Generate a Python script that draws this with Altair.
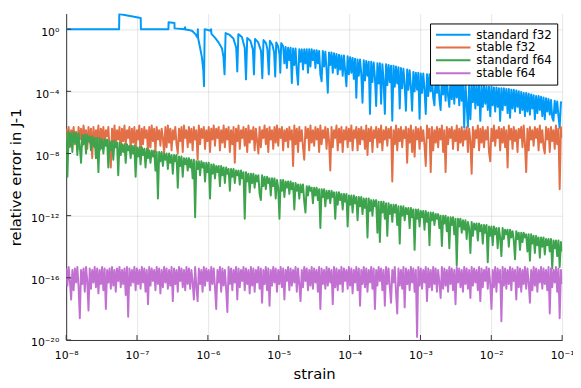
import altair as alt
import numpy as np
import pandas as pd

NAMES = ["standard f32", "stable f32", "standard f64", "stable f64"]
COLORS = ["#009AF9", "#E26F46", "#3DA44D", "#C271D2"]

XTICKS = [1e-8, 1e-7, 1e-6, 1e-5, 1e-4, 1e-3, 1e-2, 1e-1]
YTICKS = [1e0, 1e-4, 1e-8, 1e-12, 1e-16, 1e-20]

# sampling grid of log10(strain)
X_EXP = np.round(np.linspace(-8, -1, 401), 5)
BLUE_GRID_START = 175

# standard f32: explicit early part (log10 strain, log10 error)
BLUE_EARLY_X = [-8.0, -7.253, -7.25, -6.948, -6.945, -6.557, -6.555, -6.472, -6.47, -6.33,
                -6.322, -6.315, -6.27, -6.22, -6.17, -6.155, -6.145, -6.142, -6.139, -6.11,
                -6.085, -6.065, -6.055, -6.045, -6.0, -5.96, -5.955, -5.95, -5.9, -5.85,
                -5.8, -5.78, -5.765, -5.75, -5.7, -5.64, -5.6, -5.585, -5.57, -5.52,
                -5.48, -5.462, -5.445, -5.4, -5.365, -5.35, -5.335, -5.29, -5.25, -5.232,
                -5.215, -5.18, -5.16, -5.14, -5.125, -5.09, -5.065, -5.05, -5.035, -5.01,
                -4.99, -4.978, -4.965]
BLUE_EARLY_Y = [0.0, 0.0, 0.97, 0.72, 0.0, 0.0, 0.44, 0.40, 0.05, 0.0,
                0.12, -0.02, -0.05, -0.12, -0.35, -0.5, -0.5, 0.0, -0.55, -1.2,
                -1.8, -2.6, -3.67, 0.0, -0.05, -0.1, 0.0, -0.3, -0.55, -0.85,
                -1.25, -1.8, -2.91, -0.25, -0.35, -0.6, -1.2, -2.72, -0.32, -0.5,
                -1.2, -3.23, -0.57, -0.75, -1.3, -2.91, -0.63, -0.85, -1.4, -3.16,
                -0.7, -0.9, -1.3, -2.91, -0.75, -1.0, -1.5, -3.04, -0.85, -1.1,
                -1.6, -2.8, -0.9]
# standard f32 on grid points 175..400
BLUE_NOISE = [
    -1.1, -2.2, -1.15, -2.5, -1.2,
    -2.0, -1.2, -3.46, -1.25, -2.3, -1.25, -2.7, -3.57, -1.3, -2.1, -1.3, -2.6, -1.3, -2.2, -1.3, -2.8, -1.3, -2.4, -1.3, -2.0,
    -1.35, -2.5, -1.35, -2.2, -1.4, -2.9, -3.35, -1.4, -2.4, -1.45, -2.6, -4.09, -1.5, -2.3, -1.5, -2.8, -1.55, -2.5, -1.6, -2.9,
    -1.65, -2.6, -1.7, -3.0, -1.7, -2.7, -3.67, -1.75, -2.9, -1.8, -2.8, -1.85, -3.2, -1.9, -4.41, -1.95, -3.0, -1.95, -2.9, -4.73,
    -2.0, -3.3, -2.05, -3.0, -2.1, -5.45, -2.1, -3.4, -2.15, -3.1, -4.94, -2.2, -3.5, -2.2, -4.8, -2.25, -3.3, -5.45, -2.25, -3.6,
    -2.3, -3.4, -2.35, -5.89, -2.35, -3.7, -2.4, -3.5, -2.45, -5.1, -2.5, -3.8, -2.55, -3.6, -5.25, -2.6, -3.9, -2.65, -3.7, -5.25,
    -2.75, -4.0, -2.8, -3.9, -2.8, -5.76, -2.85, -4.1, -2.85, -3.9, -5.46, -2.9, -4.3, -2.9, -4.0, -2.95, -4.4, -4.9, -3.0, -4.1,
    -3.0, -4.5, -5.2, -3.05, -4.2, -3.1, -4.6, -3.1, -4.3, -5.0, -3.15, -4.5, -3.2, -4.8, -3.25, -4.4, -3.3, -4.9, -3.35, -4.6,
    -3.45, -6.35, -3.5, -4.8, -6.3, -3.5, -5.8, -3.55, -4.7, -3.55, -5.1, -3.6, -4.9, -3.6, -5.9, -3.65, -5.0, -3.65, -4.8, -3.7,
    -5.2, -3.7, -5.6, -3.7, -4.9, -3.75, -5.3, -3.75, -5.0, -3.8, -5.9, -3.8, -5.2, -3.8, -4.9, -3.85, -5.4, -3.85, -5.7, -3.9,
    -5.1, -3.9, -5.3, -3.95, -5.0, -4.0, -5.4, -4.05, -5.2, -4.1, -5.6, -4.1, -5.3, -4.15, -5.5, -4.2, -5.1, -4.25, -5.8, -4.3,
    -5.4, -4.3, -5.2, -4.35, -5.6, -4.4, -5.8, -4.45, -5.3, -4.5, -5.5, -4.55, -5.7, -5.9, -4.6, -5.4, -4.65, -5.6, -6.35, -4.7,
    -4.75,
]

ORANGE = [
    -6.4, -7.2, -6.3, -7.6, -6.5, -6.9, -6.3, -7.4, -6.6, -7.8, -6.3, -7.1, -6.4, -7.5, -6.2, -7.0, -6.5, -7.7, -6.3, -7.3,
    -6.4, -8.3, -6.3, -7.6, -6.5, -7.0, -6.2, -7.8, -6.4, -7.2, -6.3, -7.5, -6.5, -6.9, -6.3, -7.7, -8.9, -6.4, -7.3, -6.2,
    -7.6, -6.5, -7.1, -6.3, -7.9, -6.4, -7.2, -6.2, -7.5, -6.5, -7.0, -6.3, -7.7, -6.4, -7.3, -6.3, -7.8, -6.5, -7.1, -6.2,
    -8.1, -6.4, -7.4, -6.3, -7.0, -6.5, -8.0, -6.3, -7.6, -6.2, -7.2, -6.4, -7.9, -6.3, -7.1, -6.5, -7.5, -6.4, -7.0, -8.0,
    -6.3, -7.6, -6.2, -7.3, -6.4, -7.8, -6.5, -7.1, -6.3, -7.4, -8.0, -6.4, -7.2, -6.3, -7.9, -6.2, -7.0, -6.5, -7.6, -6.3,
    -7.3, -6.4, -7.8, -6.3, -7.1, -6.5, -8.4, -6.2, -7.4, -6.4, -7.0, -6.3, -7.7, -6.5, -7.2, -6.3, -7.9, -6.4, -7.1, -6.2,
    -7.5, -6.4, -7.0, -6.3, -7.8, -6.5, -7.3, -6.2, -7.6, -6.4, -7.1, -6.3, -7.9, -6.5, -7.4, -6.3, -8.6, -6.4, -7.2, -6.2,
    -7.7, -6.5, -7.0, -6.3, -7.5, -6.4, -7.9, -6.2, -7.3, -6.5, -7.1, -6.3, -7.8, -6.4, -7.2, -8.0, -6.3, -7.6, -6.5, -7.0,
    -6.2, -7.4, -6.4, -7.9, -6.3, -7.1, -6.5, -7.7, -6.3, -7.3, -6.2, -7.5, -6.4, -7.0, -6.3, -7.8, -6.5, -7.2, -6.4, -7.6,
    -6.3, -7.1, -6.5, -8.8, -6.2, -7.4, -6.4, -7.9, -6.3, -7.2, -6.5, -7.6, -8.4, -6.3, -7.0, -6.4, -7.8, -6.2, -7.3, -6.5,
    -7.5, -6.3, -7.1, -6.4, -7.9, -6.2, -7.4, -6.5, -7.0, -6.3, -7.7, -6.4, -7.2, -9.1, -6.3, -7.6, -6.5, -7.0, -6.2, -7.8,
    -6.4, -7.3, -6.3, -7.9, -6.5, -7.1, -6.3, -7.6, -6.4, -7.2, -6.2, -7.8, -6.5, -7.0, -6.3, -7.8, -6.4, -7.4, -6.3, -7.1,
    -6.5, -7.7, -6.2, -8.1, -6.4, -7.2, -6.3, -7.9, -6.5, -7.0, -6.3, -7.6, -6.4, -7.3, -6.2, -7.8, -6.5, -7.1, -6.3, -7.5,
    -6.4, -7.0, -6.3, -9.8, -6.5, -7.4, -6.2, -7.8, -6.4, -7.2, -6.3, -7.6, -6.5, -7.0, -6.3, -8.6, -6.4, -7.3, -6.2, -7.9,
    -6.5, -8.2, -6.3, -7.1, -6.4, -7.7, -6.3, -7.2, -6.5, -7.5, -8.8, -6.2, -7.0, -6.4, -9.2, -6.3, -7.8, -6.5, -7.3, -6.3,
    -7.6, -6.4, -7.1, -6.2, -7.9, -6.5, -9.2, -6.3, -7.4, -6.4, -7.0, -6.3, -7.7, -6.5, -7.2, -6.2, -7.8, -6.4, -7.3, -6.3,
    -7.5, -6.5, -7.1, -6.3, -7.9, -6.4, -7.2, -9.3, -6.3, -7.6, -6.5, -7.0, -6.2, -7.8, -6.4, -7.3, -6.3, -7.6, -6.5, -7.1,
    -6.3, -7.9, -8.5, -6.4, -7.2, -6.2, -7.5, -6.5, -7.0, -6.3, -7.8, -6.4, -7.3, -6.3, -7.6, -6.5, -8.9, -6.2, -7.1, -6.4,
    -7.7, -6.3, -7.2, -6.5, -7.9, -6.4, -7.0, -6.3, -7.6, -6.2, -7.4, -9.2, -6.4, -7.8, -6.3, -7.1, -6.5, -7.5, -6.3, -7.0,
    -6.4, -7.8, -6.2, -7.3, -6.5, -7.6, -8.0, -6.3, -7.1, -6.4, -7.9, -6.3, -7.2, -6.5, -7.7, -6.2, -7.4, -6.4, -10.3, -6.3,
    -7.0,
]

GREEN = [
    -6.6, -9.5, -6.6, -7.5, -6.7, -7.9, -6.6, -7.3, -6.7, -8.1, -6.7, -7.6, -8.6, -6.8, -7.4, -6.8, -8.0, -6.8, -7.2, -6.9,
    -7.8, -6.9, -7.5, -7.0, -8.3, -7.0, -9.2, -7.0, -7.7, -7.1, -8.0, -7.1, -7.5, -7.1, -8.9, -7.2, -7.8, -7.2, -8.4, -7.2,
    -7.6, -7.3, -9.4, -7.3, -8.1, -7.4, -7.9, -7.4, -8.6, -7.4, -7.8, -7.5, -8.3, -7.5, -8.0, -7.5, -9.5, -7.6, -8.2, -7.6,
    -8.7, -7.6, -8.1, -7.7, -8.9, -7.7, -8.3, -7.8, -8.6, -7.8, -8.2, -7.8, -9.1, -7.9, -10.9, -7.9, -8.5, -7.9, -8.8, -8.0,
    -8.4, -8.0, -9.0, -8.0, -8.6, -8.1, -9.3, -8.1, -8.5, -8.1, -10.2, -8.2, -8.8, -8.2, -9.5, -8.3, -8.7, -8.3, -9.1, -8.3,
    -8.9, -8.4, -9.6, -8.4, -12.1, -8.5, -9.0, -8.5, -9.4, -8.5, -8.9, -8.6, -9.8, -8.6, -9.2, -8.6, -10.9, -8.7, -9.3, -8.7,
    -9.6, -8.8, -9.2, -8.8, -10.1, -8.8, -9.4, -8.9, -9.9, -8.9, -9.3, -9.0, -10.4, -9.0, -9.5, -9.0, -9.9, -9.1, -9.4, -9.1,
    -10.0, -9.1, -9.6, -9.2, -12.2, -9.2, -9.8, -9.3, -10.5, -9.3, -9.9, -9.3, -10.2, -9.4, -9.8, -9.4, -10.6, -11.0, -9.4, -10.1,
    -9.5, -10.3, -9.5, -9.9, -9.6, -10.7, -9.6, -10.1, -9.6, -10.9, -9.7, -10.2, -12.2, -9.7, -10.4, -9.7, -10.8, -9.8, -10.2, -9.8,
    -10.6, -9.8, -10.3, -9.9, -11.6, -9.9, -10.4, -10.0, -10.9, -10.0, -10.5, -10.0, -11.1, -11.8, -10.1, -10.7, -10.1, -10.4, -10.2, -11.2,
    -10.2, -10.7, -10.2, -11.0, -10.3, -12.8, -10.3, -10.8, -10.3, -11.4, -10.4, -10.9, -10.4, -11.2, -10.4, -10.8, -10.5, -12.2, -10.5, -11.3,
    -10.5, -11.0, -10.6, -11.6, -10.6, -11.1, -10.6, -12.7, -10.7, -11.3, -10.7, -11.8, -10.7, -11.2, -10.8, -12.3, -10.8, -11.4, -10.8, -11.9,
    -10.9, -11.5, -10.9, -13.4, -10.9, -11.7, -11.0, -12.0, -11.0, -11.4, -11.0, -13.1, -11.1, -13.7, -11.1, -11.8, -11.1, -12.2, -11.2, -13.3,
    -11.2, -11.9, -11.3, -12.4, -11.3, -11.8, -11.3, -12.6, -11.4, -13.8, -11.4, -12.0, -11.4, -12.3, -11.5, -11.9, -11.5, -12.8, -11.5, -12.1,
    -11.6, -14.2, -11.6, -12.2, -11.6, -12.7, -11.7, -12.1, -11.7, -12.9, -11.7, -12.4, -11.8, -13.9, -11.8, -12.3, -11.8, -12.6, -11.9, -12.2,
    -11.9, -12.8, -12.0, -13.95, -12.0, -12.5, -12.0, -13.0, -12.1, -14.1, -12.1, -12.6, -12.1, -13.2, -12.2, -15.2, -12.2, -12.7, -12.2, -13.1,
    -12.3, -12.9, -12.3, -13.5, -12.4, -12.8, -14.4, -12.4, -13.3, -12.5, -12.9, -12.5, -13.6, -12.5, -13.0, -12.6, -13.8, -12.6, -13.1, -12.6,
    -15.0, -12.7, -13.3, -12.7, -13.9, -12.7, -13.2, -12.8, -14.1, -12.8, -13.4, -14.6, -12.8, -13.5, -12.9, -13.2, -12.9, -14.0, -12.9, -13.4,
    -13.0, -13.6, -14.8, -13.0, -13.5, -13.1, -14.2, -13.1, -13.7, -13.1, -13.4, -13.2, -14.3, -13.2, -14.9, -13.2, -13.8, -13.3, -14.4, -13.3,
    -13.9, -13.4, -14.7, -13.4, -14.0, -13.4, -14.5, -13.5, -13.9, -13.5, -14.3, -13.5, -15.4, -13.6, -14.1, -13.6, -14.6, -13.6, -15.3, -13.7,
    -14.3,
]

PURPLE = [
    -15.4, -16.5, -15.3, -16.2, -17.4, -15.5, -16.8, -15.4, -16.3, -15.3, -16.6, -18.6, -15.5, -16.4, -15.4, -16.9, -15.3, -16.2, -18.1, -15.4,
    -16.7, -15.5, -16.3, -15.3, -16.6, -15.4, -17.0, -15.5, -16.4, -15.3, -16.8, -15.4, -18.0, -15.5, -16.3, -15.4, -16.7, -15.3, -16.5, -15.5,
    -16.9, -15.4, -16.2, -15.3, -16.6, -15.5, -16.4, -15.4, -17.1, -15.3, -18.5, -15.4, -16.5, -15.5, -16.3, -15.3, -16.8, -15.4, -16.4, -15.5,
    -16.7, -15.3, -16.3, -15.4, -16.9, -15.5, -17.7, -15.3, -16.5, -15.4, -16.2, -15.5, -16.8, -15.3, -16.4, -15.4, -17.0, -15.5, -16.6, -15.3,
    -16.3, -15.4, -16.7, -15.5, -16.5, -15.3, -17.5, -15.4, -16.4, -15.5, -16.9, -15.3, -16.2, -15.4, -16.6, -15.5, -16.8, -15.3, -16.4, -15.4,
    -16.7, -15.5, -16.3, -17.4, -15.3, -16.6, -17.5, -15.4, -16.4, -15.5, -16.9, -15.3, -16.5, -15.4, -16.2, -15.5, -16.8, -15.3, -16.4, -15.4,
    -16.6, -18.0, -15.5, -16.3, -15.3, -16.9, -15.4, -16.5, -15.5, -16.7, -18.2, -15.3, -16.4, -15.4, -16.8, -15.5, -16.3, -15.3, -17.4, -15.4,
    -16.6, -15.5, -16.2, -15.3, -16.8, -15.4, -16.4, -15.5, -17.0, -15.3, -16.5, -15.4, -16.9, -15.5, -16.3, -15.3, -16.7, -15.4, -17.6, -15.5,
    -16.4, -15.3, -16.8, -15.4, -17.8, -15.5, -16.5, -15.3, -16.3, -15.4, -16.9, -15.5, -16.4, -15.3, -16.6, -15.4, -17.4, -15.5, -16.2, -15.3,
    -16.8, -15.4, -16.5, -15.5, -16.3, -15.3, -16.9, -15.4, -16.4, -17.5, -15.5, -16.6, -15.3, -16.2, -15.4, -16.8, -15.5, -16.5, -15.3, -16.7,
    -15.4, -16.3, -15.5, -16.9, -15.3, -18.0, -15.4, -16.4, -15.5, -16.7, -15.3, -16.5, -15.4, -16.3, -15.5, -17.7, -15.3, -16.6, -15.4, -16.8,
    -15.5, -16.4, -15.3, -16.9, -15.4, -16.2, -15.5, -16.7, -15.3, -16.5, -15.4, -17.0, -15.5, -16.3, -15.3, -16.8, -15.4, -17.8, -15.5, -16.4,
    -15.3, -16.6, -15.4, -16.9, -15.5, -16.3, -15.3, -16.7, -15.4, -18.0, -15.5, -16.5, -15.3, -16.2, -15.4, -16.8, -15.5, -17.8, -15.3, -16.4,
    -15.4, -16.6, -17.6, -15.5, -16.3, -15.3, -16.9, -18.3, -15.4, -16.5, -15.5, -16.7, -15.3, -17.9, -15.4, -16.4, -15.5, -16.8, -15.3, -16.3,
    -15.4, -16.9, -15.5, -19.8, -15.3, -16.5, -15.4, -16.7, -15.5, -16.3, -15.3, -17.5, -15.4, -16.6, -15.5, -16.8, -15.3, -16.4, -15.4, -16.9,
    -15.5, -16.3, -17.3, -15.3, -16.7, -15.4, -16.5, -15.5, -16.9, -15.3, -16.4, -15.4, -16.8, -15.5, -17.7, -15.3, -16.3, -15.4, -16.6, -15.5,
    -16.9, -15.3, -16.4, -15.4, -16.7, -15.5, -17.3, -15.3, -16.5, -15.4, -16.3, -15.5, -16.8, -15.3, -17.5, -15.4, -16.6, -15.5, -16.2, -15.3,
    -16.7, -15.4, -16.4, -18.0, -15.5, -16.6, -15.3, -16.9, -15.4, -16.3, -15.5, -18.8, -15.3, -16.5, -15.4, -16.7, -15.5, -16.4, -15.3, -16.8,
    -15.4, -16.2, -15.5, -17.4, -15.3, -16.6, -15.4, -16.9, -15.5, -16.4, -15.3, -16.7, -15.4, -16.3, -17.6, -15.5, -16.8, -15.3, -16.5, -15.4,
    -16.9, -15.5, -16.3, -15.3, -16.7, -15.4, -16.4, -15.5, -16.8, -15.3, -18.3, -15.4, -16.6, -15.5, -16.3, -15.3, -16.9, -15.4, -18.6, -15.5,
    -16.4,
]

for nm, arr in [("orange", ORANGE), ("green", GREEN), ("purple", PURPLE)]:
    if len(arr) != len(X_EXP):
        raise ValueError(f"{nm} has {len(arr)} values")
if len(BLUE_NOISE) != len(X_EXP) - BLUE_GRID_START or len(BLUE_EARLY_X) != len(BLUE_EARLY_Y):
    raise ValueError(f"blue sizes {len(BLUE_NOISE)} {len(BLUE_EARLY_X)} {len(BLUE_EARLY_Y)}")

blue_x = list(BLUE_EARLY_X) + list(X_EXP[BLUE_GRID_START:])
blue_y = list(BLUE_EARLY_Y) + list(BLUE_NOISE)


def frame(xe, ye, name):
    return pd.DataFrame({"x": 10.0 ** np.array(xe, dtype=float),
                         "y": 10.0 ** np.array(ye, dtype=float),
                         "series": name})


frames = [frame(blue_x, blue_y, NAMES[0]),
          frame(X_EXP, ORANGE, NAMES[1]),
          frame(X_EXP, GREEN, NAMES[2]),
          frame(X_EXP, PURPLE, NAMES[3])]

W, H = 503, 331
FONT = "DejaVu Sans"
AXC = "#333333"

SUP = "\u2070\u00b9\u00b2\u00b3\u2074\u2075\u2076\u2077\u2078\u2079"
E = "round(log(datum.value)/LN10)"
SUPEXP = (f"'10' + ({E} < 0 ? '\u207b' : '') + "
          f"(abs({E}) >= 10 ? substring('{SUP}', floor(abs({E})/10), floor(abs({E})/10)+1) : '') + "
          f"substring('{SUP}', abs({E})%10, abs({E})%10+1)")

xscale = alt.Scale(type="log", domain=[1e-8, 1e-1], nice=False)
yscale = alt.Scale(type="log", domain=[1e-20, 10.0], nice=False)

xaxis = alt.Axis(values=XTICKS, labelExpr=SUPEXP, grid=True, gridColor="black", gridOpacity=0.1,
                 gridWidth=1, domainColor=AXC, domainWidth=1, ticks=False, tickSize=0,
                 labelFont=FONT, labelFontSize=11, labelColor="black", labelPadding=19,
                 labelBaseline="alphabetic", labelFlush=False, labelOverlap=False,
                 title="strain", titleFont=FONT, titleFontSize=15, titleFontWeight="normal",
                 titleColor="black", titleY=39, titleBaseline="alphabetic")
yaxis = alt.Axis(values=YTICKS, labelExpr=SUPEXP, grid=True, gridColor="black", gridOpacity=0.1,
                 gridWidth=1, domainColor=AXC, domainWidth=1, ticks=False, tickSize=0,
                 labelFont=FONT, labelFontSize=11, labelColor="black", labelPadding=7.5,
                 labelBaseline="alphabetic", labelOffset=6, labelFlush=False, labelOverlap=False,
                 title="relative error in J-1", titleFont=FONT, titleFontSize=15,
                 titleFontWeight="normal", titleColor="black", titleX=-46, titleY=H / 2,
                 titleAngle=270, titleAlign="center", titleBaseline="alphabetic")

X = alt.X("x:Q", scale=xscale, axis=xaxis)
Y = alt.Y("y:Q", scale=yscale, axis=yaxis)

legend = alt.Legend(title=None, orient="none", legendX=369, legendY=10, symbolType="stroke",
                    symbolSize=1225, symbolStrokeWidth=2, labelFont=FONT, labelFontSize=12,
                    labelColor="black", padding=5, strokeColor="black", fillColor="white",
                    cornerRadius=0, clipHeight=12.8, rowPadding=0, labelOffset=5, symbolOffset=0)
C = alt.Color("series:N", scale=alt.Scale(domain=NAMES, range=COLORS), legend=legend)

layers = [alt.Chart(df).mark_line(strokeWidth=2, strokeJoin="round", clip=True).encode(x=X, y=Y, color=C)
          for df in frames]

xt = alt.Chart(pd.DataFrame({"x": XTICKS})).mark_rule(color=AXC, strokeWidth=1).encode(
    x=X, y=alt.value(H - 5), y2=alt.value(H))
yt = alt.Chart(pd.DataFrame({"y": YTICKS})).mark_rule(color=AXC, strokeWidth=1).encode(
    y=Y, x=alt.value(0), x2=alt.value(5))

chart = alt.layer(*layers, xt, yt).properties(
    width=W, height=H,
    autosize=alt.AutoSizeParams(type="none"),
    padding={"left": 59, "top": 3, "right": 11, "bottom": 46},
    background="white",
).configure_view(stroke=None)

chart.save("out.html", embed_options={"renderer": "svg", "actions": False})
